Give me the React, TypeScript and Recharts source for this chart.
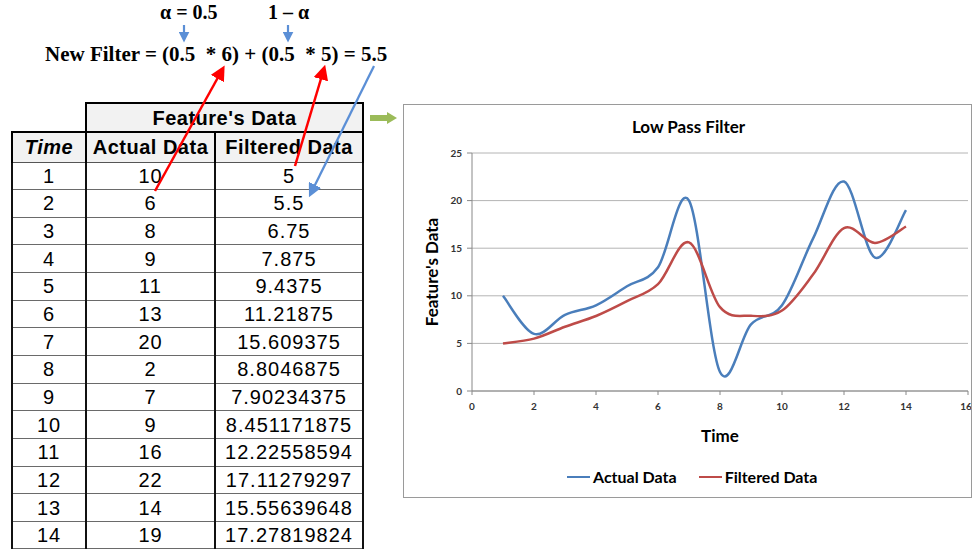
import React from 'react';
import { LineChart, Line, XAxis, YAxis, CartesianGrid, Legend, Label } from 'recharts';

// table + chart values
const timeSteps = [1, 2, 3, 4, 5, 6, 7, 8, 9, 10, 11, 12, 13, 14];
const actualData = [10, 6, 8, 9, 11, 13, 20, 2, 7, 9, 16, 22, 14, 19];
const filteredData = [
  5, 5.5, 6.75, 7.875, 9.4375, 11.21875, 15.609375, 8.8046875, 7.90234375,
  8.451171875, 12.22558594, 17.11279297, 15.55639648, 17.27819824,
];
const xTicks = [0, 2, 4, 6, 8, 10, 12, 14, 16];
const yTicks = [0, 5, 10, 15, 20, 25];

const chartData = timeSteps.map((t, i) => ({
  time: t,
  actual: actualData[i],
  filtered: filteredData[i],
}));

const chartFont = 'Lato, "Open Sans", sans-serif';
const tableFont = '"Liberation Sans", Arial, sans-serif';
const serifFont = '"Liberation Serif", "Times New Roman", serif';

// Excel style smoothed line (catmull-rom through the points)
const excelSmooth = (context: any) => {
  let pts: number[][] = [];
  return {
    areaStart() {},
    areaEnd() {},
    lineStart() {
      pts = [];
    },
    point(x: number, y: number) {
      pts.push([+x, +y]);
    },
    lineEnd() {
      if (!pts.length) return;
      context.moveTo(pts[0][0], pts[0][1]);
      for (let i = 0; i < pts.length - 1; i++) {
        const p0 = pts[i - 1] || pts[i];
        const p1 = pts[i];
        const p2 = pts[i + 1];
        const p3 = pts[i + 2] || p2;
        context.bezierCurveTo(
          p1[0] + (p2[0] - p0[0]) / 6,
          p1[1] + (p2[1] - p0[1]) / 6,
          p2[0] - (p3[0] - p1[0]) / 6,
          p2[1] - (p3[1] - p1[1]) / 6,
          p2[0],
          p2[1]
        );
      }
    },
  };
};

const LegendContent = ({ payload }: any) => (
  <div style={{ display: 'flex', alignItems: 'center', fontFamily: chartFont, fontWeight: 700, fontSize: 16, color: '#000' }}>
    {payload?.map((p: any, i: number) => (
      <div key={i} style={{ display: 'flex', alignItems: 'center', marginRight: 22 }}>
        <span style={{ display: 'inline-block', width: 23, borderTop: `2.5px solid ${p.color}`, marginRight: 3 }} />
        <span>{p.value}</span>
      </div>
    ))}
  </div>
);

const hdr: React.CSSProperties = {
  background: '#f2f2f2',
  fontWeight: 700,
  fontSize: 20,
  letterSpacing: 0.5,
  textAlign: 'center',
  padding: 0,
  border: '2px solid #000',
  borderBottom: '1.5px solid #555',
};

const cell: React.CSSProperties = {
  fontSize: 20,
  letterSpacing: 1,
  textAlign: 'center',
  padding: 0,
  height: 26,
  borderTop: '1.5px solid #6a6a6a',
  borderBottom: '1.5px solid #6a6a6a',
  borderLeft: '2px solid #111',
  borderRight: '2px solid #111',
};

function DataTable() {
  return (
    <table
      style={{
        position: 'absolute',
        left: 11,
        top: 102,
        width: 351,
        tableLayout: 'fixed',
        borderCollapse: 'collapse',
        fontFamily: tableFont,
        color: '#000',
        lineHeight: 1,
      }}
    >
      <colgroup>
        <col style={{ width: 74 }} />
        <col style={{ width: 129 }} />
        <col style={{ width: 148 }} />
      </colgroup>
      <tbody>
        <tr style={{ height: 29 }}>
          <td style={{ borderTop: 'hidden', borderLeft: 'hidden', borderBottom: '2px solid #000', padding: 0 }} />
          <td colSpan={2} style={{ ...hdr, borderBottom: '2px solid #000' }}>
            Feature's Data
          </td>
        </tr>
        <tr style={{ height: 30 }}>
          <td style={{ ...hdr, fontStyle: 'italic' }}>Time</td>
          <td style={hdr}>Actual Data</td>
          <td style={hdr}>Filtered Data</td>
        </tr>
        {timeSteps.map((t, i) => (
          <tr key={t} style={{ height: 27.65 }}>
            <td style={cell}>{t}</td>
            <td style={cell}>{actualData[i]}</td>
            <td style={cell}>{String(filteredData[i])}</td>
          </tr>
        ))}
      </tbody>
    </table>
  );
}

function Annotations() {
  return (
    <svg
      width={975}
      height={552}
      style={{ position: 'absolute', left: 0, top: 0, pointerEvents: 'none' }}
    >
      <defs>
        <marker id="redHead" markerWidth="6" markerHeight="6" refX="3" refY="3" orient="auto" markerUnits="strokeWidth">
          <path d="M0,0 L6,3 L0,6 z" fill="#ff0000" />
        </marker>
        <marker id="blueHead" markerWidth="6" markerHeight="6" refX="3" refY="3" orient="auto" markerUnits="strokeWidth">
          <path d="M0,0 L6,3 L0,6 z" fill="#5b8fd6" />
        </marker>
        <marker id="smallBlue" markerWidth="5" markerHeight="5" refX="2" refY="2.5" orient="auto" markerUnits="strokeWidth">
          <path d="M0,0 L5,2.5 L0,5 z" fill="#5b8fd6" />
        </marker>
      </defs>
      {/* alpha arrows */}
      <line x1={184} y1={25} x2={184} y2={36} stroke="#5b8fd6" strokeWidth={2.2} markerEnd="url(#smallBlue)" />
      <line x1={288} y1={25} x2={288} y2={36} stroke="#5b8fd6" strokeWidth={2.2} markerEnd="url(#smallBlue)" />
      {/* table -> formula */}
      <line x1={155} y1={191} x2={221} y2={72} stroke="#ff0000" strokeWidth={2.5} markerEnd="url(#redHead)" />
      <line x1={295} y1={166} x2={323} y2={72} stroke="#ff0000" strokeWidth={2.5} markerEnd="url(#redHead)" />
      <line x1={374} y1={66} x2={312} y2={191} stroke="#5b8fd6" strokeWidth={2.3} markerEnd="url(#blueHead)" />
      {/* green arrow to chart */}
      <path d="M370,115 L387,115 L387,112 L397,118 L387,124 L387,121 L370,121 z" fill="#9bbb59" />
    </svg>
  );
}

export default function App() {
  return (
    <div style={{ position: 'absolute', left: 0, top: 0, width: 975, height: 552, background: '#fff', overflow: 'hidden' }}>
      <div style={{ position: 'absolute', left: 160, top: 1, fontFamily: serifFont, fontWeight: 700, fontSize: 20 }}>
        α = 0.5
      </div>
      <div style={{ position: 'absolute', left: 268, top: 1, fontFamily: serifFont, fontWeight: 700, fontSize: 20 }}>
        1 – α
      </div>
      <div
        style={{
          position: 'absolute',
          left: 45,
          top: 42,
          fontFamily: serifFont,
          fontWeight: 700,
          fontSize: 21,
          whiteSpace: 'pre',
        }}
      >
        New Filter = (0.5  * 6) + (0.5  * 5) = 5.5
      </div>

      <DataTable />

      <div
        style={{
          position: 'absolute',
          left: 403,
          top: 104,
          width: 569,
          height: 394,
          border: '1px solid #9a9a9a',
          boxSizing: 'border-box',
        }}
      >
        <div
          style={{
            position: 'absolute',
            left: 0,
            width: 569,
            top: 11,
            textAlign: 'center',
            fontFamily: chartFont,
            fontWeight: 700,
            fontSize: 17,
          }}
        >
          Low Pass Filter
        </div>
        <LineChart
          width={567}
          height={392}
          data={chartData}
          margin={{ top: 48, right: 3, left: 0, bottom: 76 }}
          style={{ fontFamily: chartFont }}
        >
          <CartesianGrid vertical={false} stroke="#b4b4b4" />
          <XAxis
            dataKey="time"
            type="number"
            domain={[0, 16]}
            ticks={xTicks}
            height={30}
            tickSize={4}
            tickMargin={8}
            axisLine={{ stroke: '#888' }}
            tickLine={{ stroke: '#888' }}
            tick={{ fontSize: 10, fill: '#333', fontWeight: 700 }}
          >
            <Label value="Time" position="bottom" offset={9} style={{ fontWeight: 700, fontSize: 17, fill: '#000' }} />
          </XAxis>
          <YAxis
            type="number"
            domain={[0, 25]}
            ticks={yTicks}
            width={68}
            tickSize={5}
            tickMargin={5}
            axisLine={{ stroke: '#888' }}
            tickLine={{ stroke: '#888' }}
            tick={{ fontSize: 10, fill: '#333', fontWeight: 700 }}
          >
            <Label
              value="Feature's Data"
              angle={-90}
              position="insideLeft"
              offset={28}
              style={{ textAnchor: 'middle', fontWeight: 700, fontSize: 17, fill: '#000' }}
            />
          </YAxis>
          <Legend
            verticalAlign="middle"
            layout="horizontal"
            content={<LegendContent />}
            wrapperStyle={{ top: 362, left: 163, width: 320 }}
          />
          <Line
            type={excelSmooth as any}
            dataKey="actual"
            name="Actual Data"
            stroke="#4a7ebb"
            strokeWidth={2.5}
            dot={false}
            isAnimationActive={false}
          />
          <Line
            type={excelSmooth as any}
            dataKey="filtered"
            name="Filtered Data"
            stroke="#be4b48"
            strokeWidth={2.5}
            dot={false}
            isAnimationActive={false}
          />
        </LineChart>
      </div>

      <Annotations />
    </div>
  );
}
